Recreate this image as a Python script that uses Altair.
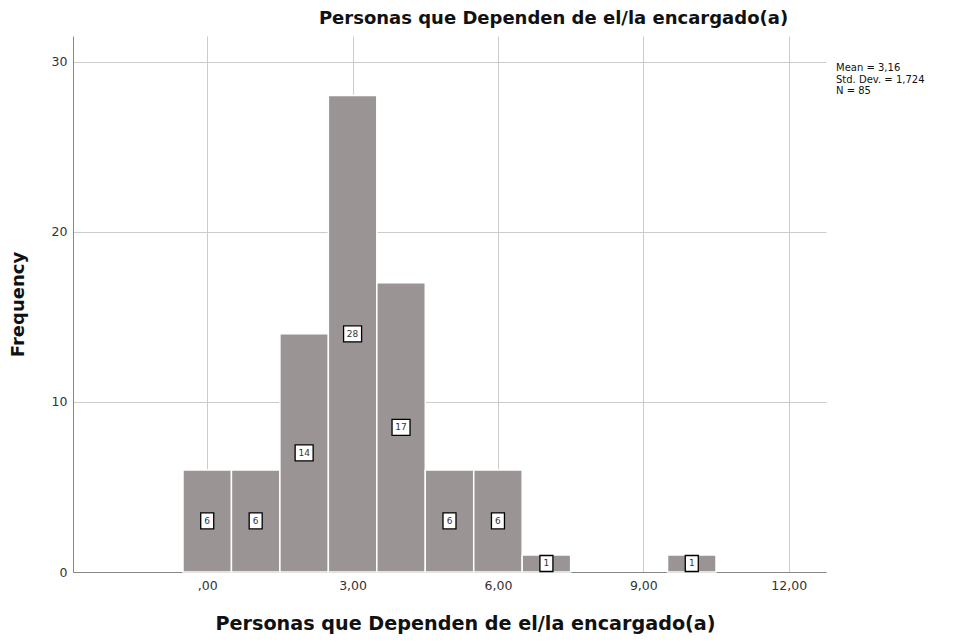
import altair as alt
import pandas as pd

# Data
bin_centers = [0, 1, 2, 3, 4, 5, 6, 7, 8, 9, 10]
frequencies = [6, 6, 14, 28, 17, 6, 6, 1, 0, 0, 1]

x_tick_values = [0, 3, 6, 9, 12]
x_tick_labels = [",00", "3,00", "6,00", "9,00", "12,00"]
y_tick_values = [0, 10, 20, 30]

stats_lines = ["Mean = 3,16", "Std. Dev. = 1,724", "N = 85"]
title_text = "Personas que Dependen de el/la encargado(a)"

df = pd.DataFrame({"center": bin_centers, "count": frequencies})
df["left"] = df["center"] - 0.5
df["right"] = df["center"] + 0.5
df["mid"] = df["count"] / 2
df["label"] = df["count"].astype(str)
df = df[df["count"] > 0]

FONT = "DejaVu Sans"

label_expr = " : ".join(
    [f"datum.value == {v} ? '{l}'" for v, l in zip(x_tick_values, x_tick_labels)]
) + " : ''"

x_scale = alt.Scale(domain=[-2.77, 12.77], nice=False, zero=False)
y_scale = alt.Scale(domain=[0, 31.5], nice=False)

base = alt.Chart(df)

bars = base.mark_rect(fill="#9a9494", stroke="white", strokeWidth=1.5).encode(
    x=alt.X(
        "left:Q",
        scale=x_scale,
        axis=alt.Axis(
            values=x_tick_values,
            labelExpr=label_expr,
            title=title_text,
            titleFontSize=19.2,
            titleFontWeight="bold",
            titleFont=FONT,
            titleColor="#111",
            titleX=392,
            titleY=57,
            titleAlign="center",
            titleBaseline="alphabetic",
            labelFont=FONT,
            labelFontSize=12.5,
            labelColor="#333",
            labelPadding=7,
            ticks=False,
            domainColor="#888",
            domainWidth=1,
            gridColor="#cccccc",
            gridWidth=1,
        ),
    ),
    x2="right:Q",
    y=alt.Y(
        "count:Q",
        scale=y_scale,
        axis=alt.Axis(
            values=y_tick_values,
            title="Frequency",
            titleFontSize=18,
            titleFontWeight="bold",
            titleFont=FONT,
            titleColor="#111",
            titleX=-55,
            titleY=268,
            titleAngle=270,
            titleAlign="center",
            titleBaseline="middle",
            labelFont=FONT,
            labelFontSize=12.5,
            labelColor="#333",
            labelPadding=6,
            ticks=False,
            domainColor="#888",
            domainWidth=1,
            gridColor="#cccccc",
            gridWidth=1,
        ),
    ),
    y2=alt.datum(0),
)

box1 = base.transform_filter("datum.count < 10").mark_rect(
    fill="white", stroke="black", strokeWidth=1.3,
    xOffset=-6.5, x2Offset=6.5, yOffset=-8, y2Offset=8,
).encode(
    x=alt.X("center:Q", scale=x_scale),
    x2="center:Q",
    y=alt.Y("mid:Q", scale=y_scale),
    y2="mid:Q",
)

box2 = base.transform_filter("datum.count >= 10").mark_rect(
    fill="white", stroke="black", strokeWidth=1.3,
    xOffset=-9, x2Offset=9, yOffset=-8, y2Offset=8,
).encode(
    x=alt.X("center:Q", scale=x_scale),
    x2="center:Q",
    y=alt.Y("mid:Q", scale=y_scale),
    y2="mid:Q",
)

texts = base.mark_text(font=FONT, fontSize=9, color="#333", baseline="middle", align="center").encode(
    x=alt.X("center:Q", scale=x_scale),
    y=alt.Y("mid:Q", scale=y_scale),
    text="label:N",
)

stats = alt.Chart(pd.DataFrame({"k": [0]})).mark_text(
    font=FONT, fontSize=10, color="#111", align="left", baseline="top", lineHeight=11.5
).encode(
    x=alt.value(763),
    y=alt.value(27),
    text=alt.value(stats_lines),
)

chart = alt.layer(bars, box1, box2, texts, stats).properties(
    width=753,
    height=536,
    title=alt.TitleParams(
        text=title_text, font=FONT, fontSize=18, fontWeight="bold", color="#111",
        anchor="middle", dx=104, offset=8,
    ),
    autosize=alt.AutoSizeParams(type="none"),
    padding={"left": 65, "top": 28, "right": 127, "bottom": 63},
).configure_view(stroke=None)

chart.save("out.html", embed_options={"renderer": "svg", "actions": False})
